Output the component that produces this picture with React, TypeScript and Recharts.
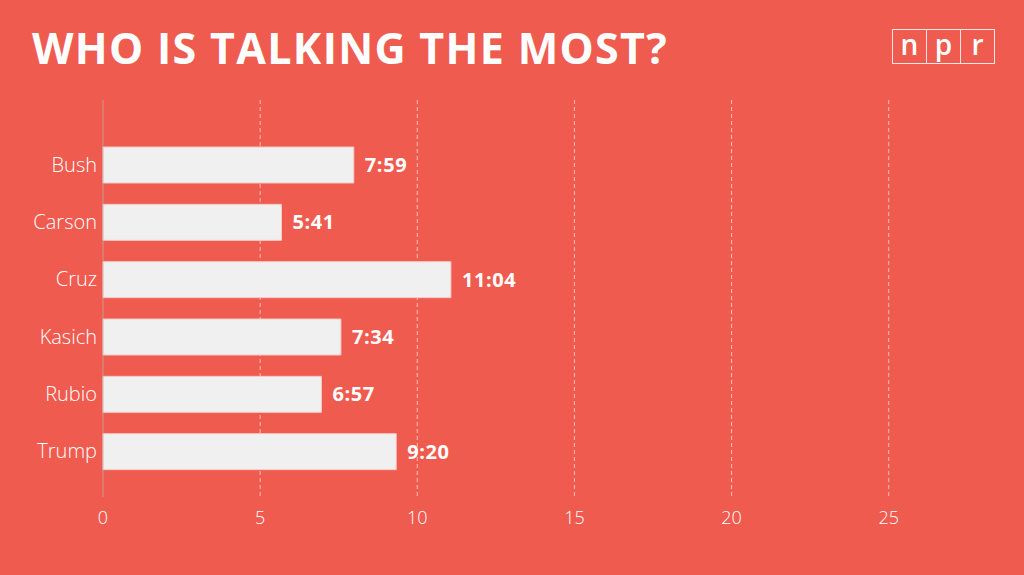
import {
  BarChart,
  Bar,
  XAxis,
  YAxis,
  CartesianGrid,
  ReferenceLine,
  LabelList,
} from "recharts";

const candidates = ["Bush", "Carson", "Cruz", "Kasich", "Rubio", "Trump"];
const minutes = [7.98, 5.68, 11.07, 7.57, 6.95, 9.33];
const timeLabels = ["7:59", "5:41", "11:04", "7:34", "6:57", "9:20"];
const xTicks = [0, 5, 10, 15, 20, 25];

const BG = "#ef5b4f";
const FONT = "'Open Sans', 'Noto Sans', sans-serif";

const data = candidates.map((name, i) => ({
  name,
  minutes: minutes[i],
  label: timeLabels[i],
}));

function NprLogo() {
  const letters = ["n", "p", "r"];
  return (
    <div
      style={{
        position: "absolute",
        left: 892,
        top: 29,
        display: "flex",
        border: "1px solid rgba(255,255,255,0.85)",
      }}
    >
      {letters.map((l, i) => (
        <div
          key={l}
          style={{
            width: 33,
            height: 33,
            borderLeft: i > 0 ? "1px solid rgba(255,255,255,0.85)" : "none",
            color: "#fff",
            fontFamily: FONT,
            fontWeight: 600,
            fontSize: 28,
            lineHeight: "28px",
            textAlign: "center",
          }}
        >
          {l}
        </div>
      ))}
    </div>
  );
}

export default function App() {
  return (
    <div
      style={{
        position: "absolute",
        left: 0,
        top: 0,
        width: 1024,
        height: 575,
        background: BG,
        overflow: "hidden",
      }}
    >
      <div
        style={{
          position: "absolute",
          left: 32,
          top: 22,
          color: "#fff",
          fontFamily: FONT,
          fontWeight: 700,
          fontSize: 43,
          letterSpacing: 1.3,
          lineHeight: "52px",
        }}
      >
        WHO IS TALKING THE MOST?
      </div>
      <NprLogo />
      <BarChart
        width={1024}
        height={575}
        data={data}
        layout="vertical"
        margin={{ top: 100, right: 41, bottom: 0, left: 0 }}
        style={{ position: "absolute", left: 0, top: 0 }}
      >
        <CartesianGrid
          horizontal={false}
          verticalValues={[5, 10, 15, 20, 25]}
          stroke="rgba(255,255,255,0.6)"
          strokeDasharray="4 3"
        />
        <ReferenceLine x={0} stroke="rgba(190,190,190,0.6)" />
        <XAxis
          type="number"
          domain={[0, 28]}
          ticks={xTicks}
          axisLine={false}
          tickLine={false}
          tickMargin={8}
          height={78}
          tick={{ fill: "#fff", fontSize: 18, fontFamily: FONT, fontWeight: 300 }}
        />
        <YAxis
          type="category"
          dataKey="name"
          width={103}
          padding={{ top: 36, bottom: 17 }}
          axisLine={false}
          tickLine={false}
          tickMargin={0}
          tick={{ fill: "#fff", fontSize: 20, fontFamily: FONT, fontWeight: 300 }}
        />
        <Bar
          dataKey="minutes"
          fill="#f0f0f0"
          stroke="#f6c9c4"
          strokeWidth={1}
          barSize={36}
          isAnimationActive={false}
        >
          <LabelList
            dataKey="label"
            position="right"
            offset={11}
            fill="#fff"
            fontSize={20}
            fontWeight={700}
            fontFamily={FONT}
            letterSpacing={0.6}
          />
        </Bar>
      </BarChart>
    </div>
  );
}
